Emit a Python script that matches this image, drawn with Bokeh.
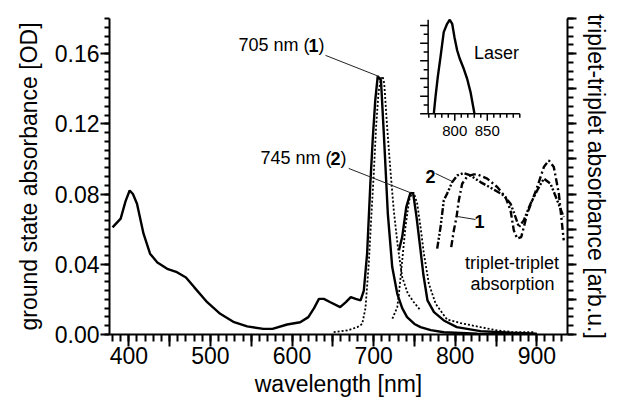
import numpy as np
from bokeh.plotting import figure
from bokeh.models import (Range1d, LinearAxis, FixedTicker, SingleIntervalTicker,
                          PrintfTickFormatter, CustomJSTickFormatter, Label, Title)
from bokeh.embed import file_html
from bokeh.resources import INLINE

FONT = "Liberation Sans"

# --- ground-state absorbance, compound 1 [nm, OD] ---
abs1_nm = [380, 390, 396, 401, 405, 410, 418, 426, 435, 447, 459, 470, 480, 496, 512,
           529, 545, 565, 576, 594, 610, 620, 627, 633, 639, 647, 659, 666, 672, 678,
           684, 688, 692, 696, 699, 702, 705, 707, 709, 712.5, 717.4, 722.8, 729, 735,
           741, 750, 757.5, 770, 786, 827, 900]
abs1_od = [0.061, 0.066, 0.076, 0.082, 0.080, 0.0745, 0.0574, 0.046, 0.041, 0.0374, 0.0355,
           0.0325, 0.027, 0.0184, 0.0118, 0.007, 0.0046, 0.0032, 0.0032, 0.0057, 0.007,
           0.0099, 0.015, 0.0203, 0.0203, 0.0184, 0.0156, 0.0184, 0.0213, 0.0203, 0.0194,
           0.025, 0.046, 0.086, 0.112, 0.1334, 0.147, 0.146, 0.1448, 0.1144, 0.0688, 0.0384,
           0.0232, 0.015, 0.0099, 0.006, 0.0042, 0.0025, 0.0013, 0.0004, 0.0]

# --- ground-state absorbance, compound 2 ---
abs2_nm = [731, 735, 740, 745, 748.5, 752.6, 757.5, 761, 766, 774, 786, 802, 831, 868, 900]
abs2_od = [0.0479, 0.0555, 0.0726, 0.0806, 0.0802, 0.0669, 0.0479, 0.034, 0.0194, 0.0127,
           0.008, 0.0042, 0.0019, 0.0010, 0.0005]

# --- dotted spectra around the two Q bands ---
dot1_nm = [651, 668, 680, 686, 690, 694, 697, 700, 703, 706, 709, 711, 713, 716.6, 720.6,
           724.7, 729.7, 735, 742, 749.3, 757.5]
dot1_od = [0.0013, 0.0023, 0.0042, 0.006, 0.015, 0.04, 0.066, 0.09, 0.118, 0.138, 0.146,
           0.147, 0.143, 0.118, 0.0935, 0.0707, 0.0498, 0.0327, 0.0232, 0.0184, 0.0137]

dot2_nm = [723, 729, 731, 735, 739, 743.5, 747, 749.3, 753.4, 757.5, 761.6, 767.7, 776,
           790, 806.5, 831, 851.5, 872, 896]
dot2_od = [0.009, 0.0156, 0.0232, 0.042, 0.0612, 0.0764, 0.0806, 0.0806, 0.0745, 0.0612,
           0.046, 0.0289, 0.0175, 0.0085, 0.0065, 0.0042, 0.0023, 0.0013, 0.0013]

# --- triplet-triplet absorption [arb.u.] ---
tt1_nm = [795.1, 798.3, 801.6, 804.4, 808.5, 814.7, 822.8, 827, 839.2, 851.5, 861.6, 867.8,
          871.8, 876, 880.9, 888.2, 900.5, 908.6, 914.7, 920.8, 927, 933]
tt1_v = [0.498, 0.593, 0.669, 0.764, 0.859, 0.90, 0.912, 0.912, 0.888, 0.84, 0.783, 0.707,
         0.593, 0.546, 0.555, 0.688, 0.84, 0.954, 0.992, 0.954, 0.802, 0.536]

tt2_nm = [777.9, 782, 786, 790, 796.3, 802.4, 810.5, 818.7, 831, 845.3, 859.5, 867.8, 873.9,
          878, 884, 892.3, 900.5, 908.6, 916.8, 925, 933]
tt2_v = [0.489, 0.612, 0.764, 0.802, 0.868, 0.906, 0.92, 0.906, 0.868, 0.831, 0.792, 0.745,
         0.669, 0.612, 0.65, 0.745, 0.821, 0.888, 0.859, 0.764, 0.669]

# --- laser spectrum (inset) ---
laser_nm = [767.7, 770.3, 773.8, 778, 783, 788.2, 792.3, 796, 799.5, 803.7, 807.7, 813.8,
            819, 824.2, 830.3]
laser_v = [0.0, 0.189, 0.415, 0.642, 0.925, 1.019, 1.065, 1.019, 0.868, 0.717, 0.623,
           0.51, 0.397, 0.246, 0.0]

# axis ticks
x_major = [400, 450, 500, 550, 600, 650, 700, 750, 800, 850, 900]
x_labels = {400: "400", 500: "500", 600: "600", 700: "700", 800: "800", 900: "900"}
inset_x_minor = list(range(760, 901, 10))
inset_x_major = [800, 850]
inset_y_ticks = [round(0.1 * i, 1) for i in range(11)]

# geometry of the plotting frame (px)
W, H = 620, 402
BL, BR, BT, BB = 109, 53, 18, 68
FW, FH = W - BL - BR, H - BT - BB
X0, X1 = 376.3, 937.6
Y0, Y1 = 0.0, 0.18

# inset placed through its own ranges
LX0, LX1 = 268.8, 973.4
LY0, LY1 = -2.4994, 1.0793
lx_px = FW / (LX1 - LX0)
ly_px = FH / (LY1 - LY0)

p = figure(width=W, height=H, output_backend="svg", toolbar_location=None,
           x_range=Range1d(X0, X1), y_range=Range1d(Y0, Y1),
           min_border_left=BL, min_border_right=BR, min_border_top=BT, min_border_bottom=BB,
           background_fill_color="white", border_fill_color="white")
p.outline_line_color = None
p.grid.visible = False
p.extra_y_ranges = {"tt": Range1d(0, 1.8), "ly": Range1d(LY0, LY1)}
p.extra_x_ranges = {"lx": Range1d(LX0, LX1)}


def style_axis(ax, major_out, minor_out):
    ax.axis_line_width = 2
    ax.axis_line_color = "black"
    ax.major_tick_line_width = 2
    ax.minor_tick_line_width = 2
    ax.major_tick_line_color = "black"
    ax.minor_tick_line_color = "black"
    ax.major_tick_in = 0
    ax.minor_tick_in = 0
    ax.major_tick_out = major_out
    ax.minor_tick_out = minor_out
    ax.major_label_text_font = FONT
    ax.major_label_text_font_size = "23px"
    ax.major_label_text_color = "black"
    ax.axis_label_text_font = FONT
    ax.axis_label_text_font_size = "23px"
    ax.axis_label_text_font_style = "normal"
    ax.axis_label_text_color = "black"


xa = p.xaxis[0]
xa.ticker = FixedTicker(ticks=x_major, minor_ticks=list(range(380, 940, 10)))
xa.major_label_overrides = {v: x_labels.get(v, "") for v in x_major}
xa.axis_label = "wavelength [nm]"
style_axis(xa, 12, 7)
xa.major_label_standoff = 0
xa.axis_label_standoff = 4

ya = p.yaxis[0]
ya.ticker = SingleIntervalTicker(interval=0.04, num_minor_ticks=8)
ya.formatter = PrintfTickFormatter(format="%.2f")
ya.axis_label = "ground state absorbance [OD]"
style_axis(ya, 9, 5)
ya.major_label_standoff = 1
ya.axis_label_standoff = 10

ra = LinearAxis(y_range_name="tt", ticker=SingleIntervalTicker(interval=0.2, num_minor_ticks=4),
                formatter=CustomJSTickFormatter(code="return ''"))
style_axis(ra, 9, 6)
ra.major_label_standoff = 0
p.add_layout(ra, "right")

# right-hand title, set in the side panel
p.add_layout(Title(text="triplet-triplet absorbance [arb.u.]", align="center",
                   text_font=FONT, text_font_size="23px", text_font_style="normal",
                   text_color="black", standoff=12, offset=0), "right")

# spectra
p.line(abs1_nm, abs1_od, line_color="black", line_width=2.4)
p.line(abs2_nm, abs2_od, line_color="black", line_width=2.4)
p.line(dot1_nm, dot1_od, line_color="black", line_width=1.8, line_dash="2 2")
p.line(dot2_nm, dot2_od, line_color="black", line_width=1.8, line_dash="2 2")
p.line(tt1_nm, tt1_v, y_range_name="tt", line_color="black", line_width=2.4,
       line_dash="7 3 2 3")
p.line(tt2_nm, tt2_v, y_range_name="tt", line_color="black", line_width=2.4,
       line_dash="7 2 2 2 2 2")

# peak callouts
pk1 = int(np.argmax(abs1_od))
pk2 = int(np.argmax(abs2_od))
p.segment(x0=[641, 669.5], y0=[0.159, 0.0946],
          x1=[abs1_nm[pk1] + 1.5, abs2_nm[pk2] + 1], y1=[abs1_od[pk1], abs2_od[pk2]],
          line_color="#222222", line_width=1)


def add_label(x, y, text, size="18px", bold=False, align="left", x_offset=0,
              x_range_name="default", y_range_name="default"):
    p.add_layout(Label(x=x, y=y, text=text, x_offset=x_offset,
                       x_range_name=x_range_name, y_range_name=y_range_name,
                       text_font=FONT, text_font_size=size, text_color="black",
                       text_font_style="bold" if bold else "normal",
                       text_align=align, text_baseline="middle"))


add_label(534.4, 0.1647, "705 nm (")
add_label(534.4, 0.1647, "1", bold=True, x_offset=70)
add_label(534.4, 0.1647, ")", x_offset=80)
add_label(561.4, 0.1003, "745 nm (")
add_label(561.4, 0.1003, "2", bold=True, x_offset=70)
add_label(561.4, 0.1003, ")", x_offset=80)

# triplet curve tags
p.segment(x0=[775.9, 824.8], y0=[0.917, 0.655], x1=[796.7, 802.8], y1=[0.871, 0.672],
          y_range_name="tt", line_color="#222222", line_width=1)
add_label(769.7, 0.90, "2", bold=True, align="center", y_range_name="tt")
add_label(829.7, 0.643, "1", bold=True, align="center", y_range_name="tt")
add_label(869.5, 0.0405, "triplet-triplet", align="center")
add_label(870.3, 0.0290, "absorption", align="center")

# inset: laser spectrum with its own small axes
IX0, IX1, IY1 = 759, 900, 1.065
p.line(laser_nm, laser_v, x_range_name="lx", y_range_name="ly", line_color="black",
       line_width=2.4)
p.segment(x0=[IX0, IX0], y0=[0, 0], x1=[IX1, IX0], y1=[0, IY1],
          x_range_name="lx", y_range_name="ly", line_color="black", line_width=1.5)
xt_len = [(7 if v in inset_x_major else 4) / ly_px for v in inset_x_minor]
p.segment(x0=inset_x_minor, y0=[0] * len(inset_x_minor), x1=inset_x_minor,
          y1=[-l for l in xt_len], x_range_name="lx", y_range_name="ly",
          line_color="black", line_width=1.5)
yt_len = [(8 if i % 2 == 0 else 4.5) / lx_px for i in range(len(inset_y_ticks))]
p.segment(x0=[IX0] * len(inset_y_ticks), y0=inset_y_ticks,
          x1=[IX0 - l for l in yt_len], y1=inset_y_ticks,
          x_range_name="lx", y_range_name="ly", line_color="black", line_width=1.5)
for v in inset_x_major:
    p.add_layout(Label(x=v, y=0, text=str(v), x_range_name="lx", y_range_name="ly",
                       y_offset=-17, text_font=FONT, text_font_size="15px",
                       text_color="black", text_align="center", text_baseline="middle"))
add_label(864.2, 0.694, "Laser", align="center", x_range_name="lx", y_range_name="ly")

open("out.html", "w").write(file_html(p, INLINE))
